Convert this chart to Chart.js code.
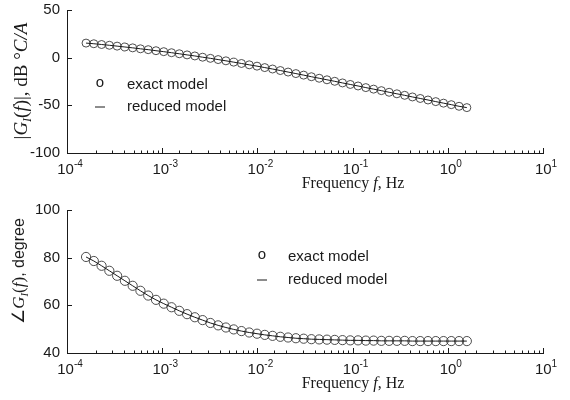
<!DOCTYPE html>
<html>
<head>
<meta charset="utf-8">
<script src="https://cdn.jsdelivr.net/npm/chart.js@4.4.0/dist/chart.umd.min.js"></script>
<style>
  body { margin: 0; background: #fff; }
  canvas { display: block; }
</style>
</head>
<body>
<canvas id="magChart" width="570" height="200"></canvas>
<canvas id="phaseChart" width="570" height="200"></canvas>
<script>
// Frequency points, Hz
const freq = [
  1.585e-4, 1.913e-4, 2.308e-4, 2.785e-4, 3.361e-4, 4.057e-4, 4.896e-4, 5.908e-4, 7.130e-4, 8.604e-4,
  1.038e-3, 1.253e-3, 1.512e-3, 1.825e-3, 2.202e-3, 2.658e-3, 3.207e-3, 3.870e-3, 4.670e-3, 5.636e-3,
  6.801e-3, 8.208e-3, 9.906e-3, 1.195e-2, 1.443e-2, 1.741e-2, 2.101e-2, 2.536e-2, 3.060e-2, 3.693e-2,
  4.457e-2, 5.378e-2, 6.491e-2, 7.833e-2, 9.452e-2, 0.1141, 0.1377, 0.1661, 0.2005, 0.2419,
  0.2920, 0.3524, 0.4252, 0.5132, 0.6193, 0.7474, 0.9018, 1.088, 1.313, 1.585
];

// |G_I(f)|, dB
const magnitude = [
  15.3, 14.6, 13.8, 13.0, 12.1, 11.2, 10.3, 9.3, 8.4, 7.3,
  6.3, 5.2, 4.1, 2.9, 1.8, 0.5, -0.7, -2.0, -3.3, -4.7,
  -6.1, -7.5, -8.9, -10.4, -11.9, -13.5, -15.1, -16.7, -18.3, -20.0,
  -21.6, -23.2, -24.8, -26.5, -28.1, -29.7, -31.4, -33.0, -34.6, -36.3,
  -37.9, -39.5, -41.2, -42.8, -44.4, -46.1, -47.7, -49.3, -51.0, -52.4
];

// angle of G_I(f), degree
const phase = [
  80.3, 78.6, 76.6, 74.5, 72.4, 70.3, 68.2, 66.1, 64.1, 62.3,
  60.7, 59.2, 57.7, 56.3, 55.0, 53.8, 52.6, 51.6, 50.7, 49.9,
  49.2, 48.6, 48.1, 47.6, 47.2, 46.8, 46.5, 46.2, 46.0, 45.8,
  45.7, 45.6, 45.5, 45.4, 45.3, 45.3, 45.2, 45.2, 45.1, 45.1,
  45.1, 45.1, 45.0, 45.0, 45.0, 45.0, 45.0, 45.0, 45.0, 45.0
];

const xTickExponents = [-4, -3, -2, -1, 0, 1];
const magTicks = [-100, -50, 0, 50];
const phaseTicks = [40, 60, 80, 100];
const legendLabels = ['exact model', 'reduced model'];

const ink = '#1a1a1a';
const sans = '"Liberation Sans", Arial, sans-serif';
const serif = '"Liberation Serif", "Times New Roman", serif';

// draws a run of differently styled text pieces centred on x
function drawRich(ctx, parts, x, y) {
  let w = 0;
  parts.forEach(p => { ctx.font = p[1]; w += ctx.measureText(p[0]).width; });
  let cx = x - w / 2;
  parts.forEach(p => {
    ctx.font = p[1];
    ctx.fillText(p[0], cx, y + (p[2] || 0));
    cx += ctx.measureText(p[0]).width;
  });
}

function isDecade(v) {
  const l = Math.log10(v);
  return Math.abs(l - Math.round(l)) < 1e-6;
}

const xTitle = [
  ['Frequency ', '16px ' + serif],
  ['f', 'italic 16px ' + serif],
  [', Hz', '16px ' + serif]
];

// inward ticks, decade labels, axis titles and the legend
const axisDecor = {
  id: 'axisDecor',
  afterDraw(chart, args, opts) {
    const ctx = chart.ctx;
    const xs = chart.scales.x, ys = chart.scales.y;
    const area = chart.chartArea;
    ctx.save();
    ctx.strokeStyle = ink;
    ctx.lineWidth = 1;
    ctx.beginPath();
    ys.ticks.forEach(t => {
      const y = Math.round(ys.getPixelForValue(t.value)) + 0.5;
      ctx.moveTo(area.left, y);
      ctx.lineTo(area.left + 5, y);
    });
    xs.ticks.forEach(t => {
      const x = Math.round(xs.getPixelForValue(t.value)) + 0.5;
      const len = isDecade(t.value) ? 5 : 2.5;
      ctx.moveTo(x, area.bottom);
      ctx.lineTo(x, area.bottom - len);
    });
    ctx.stroke();

    ctx.fillStyle = ink;
    ctx.textBaseline = 'alphabetic';
    xTickExponents.forEach(e => {
      const x = xs.getPixelForValue(Math.pow(10, e));
      drawRich(ctx, [['10', '15px ' + sans], [String(e), '10px ' + sans, -7]], x + 3, area.bottom + 21);
    });
    drawRich(ctx, xTitle, 353, area.bottom + 35);

    ctx.save();
    ctx.translate(opts.yTitleAt[0], opts.yTitleAt[1]);
    ctx.rotate(-Math.PI / 2);
    drawRich(ctx, opts.yTitle, 0, 6);
    ctx.restore();

    // legend: marker glyph and line sample
    const lg = opts.legend;
    ctx.font = '15px ' + sans;
    ctx.textBaseline = 'middle';
    ctx.textAlign = 'center';
    ctx.fillText('o', lg.x, lg.y - 2);
    ctx.beginPath();
    ctx.moveTo(lg.x - 5, lg.y + lg.gap);
    ctx.lineTo(lg.x + 5, lg.y + lg.gap);
    ctx.stroke();
    ctx.textAlign = 'left';
    ctx.fillText(legendLabels[0], lg.textX, lg.y);
    ctx.fillText(legendLabels[1], lg.textX, lg.y + lg.gap);
    ctx.restore();
  }
};

function makeChart(id, values, yMin, yMax, yTicks, radius, decor) {
  const pts = freq.map((f, i) => ({ x: f, y: values[i] }));
  return new Chart(document.getElementById(id), {
    type: 'scatter',
    data: {
      datasets: [{
        label: legendLabels[1],
        data: pts,
        showLine: true,
        borderColor: ink,
        borderWidth: 1,
        pointRadius: 0
      }, {
        label: legendLabels[0],
        data: pts,
        showLine: false,
        pointStyle: 'circle',
        pointRadius: radius,
        pointBorderWidth: 0.9,
        pointBorderColor: '#3a3a3a',
        pointBackgroundColor: 'rgba(0,0,0,0)'
      }]
    },
    options: {
      responsive: false,
      animation: false,
      layout: { padding: { top: 10, right: 27, left: 0, bottom: 0 } },
      plugins: {
        legend: { display: false },
        tooltip: { enabled: false },
        axisDecor: decor
      },
      scales: {
        x: {
          type: 'logarithmic',
          min: 1e-4,
          max: 10,
          grid: { display: false, drawTicks: false },
          border: { display: true, color: ink, width: 1 },
          ticks: { autoSkip: false, callback: () => '' },
          afterFit: s => {
            s.height = 47;
            s.paddingLeft = 0;
            s.paddingRight = 0;
          }
        },
        y: {
          min: yMin,
          max: yMax,
          grid: { display: false, drawTicks: false },
          border: { display: true, color: ink, width: 1 },
          afterBuildTicks: s => { s.ticks = yTicks.map(v => ({ value: v })); },
          ticks: { padding: 7, color: ink, font: { family: sans, size: 15 } },
          afterFit: s => {
            s.width = 67;
            s.paddingTop = 0;
            s.paddingBottom = 0;
          }
        }
      }
    },
    plugins: [axisDecor]
  });
}

makeChart('magChart', magnitude, -100, 50, magTicks, 4, {
  yTitleAt: [21, 81],
  yTitle: [
    ['|', '19px ' + serif],
    ['G', 'italic 19px ' + serif],
    ['I', 'italic 12px ' + serif, 4],
    ['(', '19px ' + serif],
    ['f', 'italic 19px ' + serif],
    [')|, dB ', '19px ' + serif],
    ['\u00b0', '19px ' + serif],
    ['C/A', 'italic 19px ' + serif]
  ],
  legend: { x: 100, y: 85, gap: 22, textX: 127 }
});

makeChart('phaseChart', phase, 40, 100, phaseTicks, 4.6, {
  yTitleAt: [18, 71],
  yTitle: [
    ['\u2220', '17px ' + serif],
    ['G', 'italic 17px ' + serif],
    ['I', 'italic 11px ' + serif, 4],
    ['(', '17px ' + serif],
    ['f', 'italic 17px ' + serif],
    [')', '17px ' + serif],
    [', degree', '16px ' + sans]
  ],
  legend: { x: 262, y: 57, gap: 23, textX: 288 }
});
</script>
</body>
</html>
